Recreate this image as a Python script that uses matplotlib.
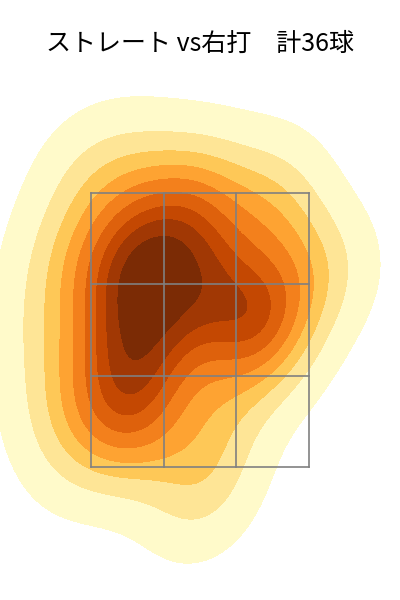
import numpy as np
import matplotlib
matplotlib.use("Agg")
import matplotlib.pyplot as plt
import seaborn as sns

plt.rcParams['font.family'] = ['Noto Sans CJK JP', 'DejaVu Sans']

TITLE = "ストレート vs右打　計36球"

# 投球位置 (ft): 横 plate_x, 高さ plate_z  36球
plate_x = [-0.63, -0.43, -0.75, -0.12, -0.05, 0.02, 0.50, 0.75, -0.50, 0.00,
           -0.88, 0.55, -0.58, -0.48, -0.75, -0.33, -0.48, 0.00, 0.20, -0.23,
           0.45, 0.60, 0.35, -0.68, -0.53, -0.95, -0.38, -0.05, 0.15, 0.50,
           -1.20, -1.12, -1.10, 1.00, -0.45, 0.10]
plate_z = [3.10, 3.30, 2.90, 3.15, 3.45, 3.00, 3.30, 3.05, 3.70, 3.60,
           3.65, 3.55, 2.60, 2.40, 2.30, 2.75, 2.95, 2.80, 2.60, 2.35,
           2.55, 2.50, 2.70, 2.00, 1.80, 1.60, 2.05, 1.22, 1.90, 2.30,
           2.55, 2.00, 3.10, 2.90, 1.65, 1.50]

# ストライクゾーン
ZONE_X = (-0.83, 0.83)
ZONE_Z = (1.5, 3.5)

fig = plt.figure(figsize=(4, 6), dpi=100)
ax = fig.add_axes([0, 0, 1, 1])
sns.kdeplot(x=plate_x, y=plate_z, fill=True, cmap="YlOrBr", ax=ax)

xs = np.linspace(ZONE_X[0], ZONE_X[1], 4)
zs = np.linspace(ZONE_Z[0], ZONE_Z[1], 4)
for x in xs:
    ax.plot([x, x], ZONE_Z, color="gray", lw=1.2)
for z in zs:
    ax.plot(ZONE_X, [z, z], color="gray", lw=1.2)

ax.set_xlim(-1.523, 1.523)
ax.set_ylim(0.529, 4.909)
ax.axis("off")
fig.text(0.5, 1 - 44 / 600, TITLE, ha="center", va="center", fontsize=18)
fig.savefig("out.png", dpi=100)
